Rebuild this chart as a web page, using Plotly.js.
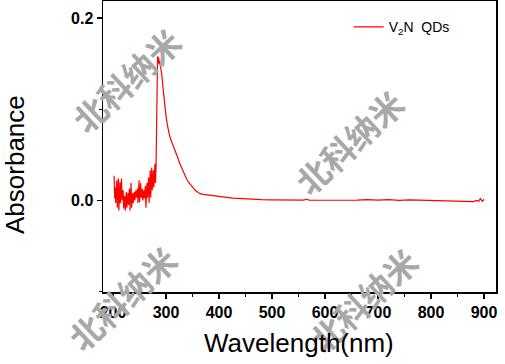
<!DOCTYPE html>
<html>
<head>
<meta charset="utf-8">
<script src="https://cdn.plot.ly/plotly-3.0.1.min.js"></script>
<style>html,body{margin:0;padding:0;background:#fff;}#chart{width:505px;height:364px;}</style>
</head>
<body>
<div id="chart"></div>
<script>
// Wavelength (nm)
const wavelength = [
  202,203,204,205,207,208,210,211,213,214,216,217,219,220,222,223,225,226,228,229,
  231,232,234,235,237,238,240,241,243,244,246,247,249,250,252,253,255,256,258,259,
  261,262,264,265,267,268,270,271,273,274,276,277,279,280,
  281,282,283,284,285,286,287,288,290,292,294,296,298,300,303,307,312,317,322,326,
  331,336,340,345,350,355,360,364,370,380,390,402,415,426,445,464,480,500,520,560,
  565,570,600,640,660,680,700,720,740,760,800,840,860,870,880,885,890,893,897,900
];
// Absorbance
const absorbance = [
  0.027,0.002,0.014,-0.003,0.022,-0.008,0.024,-0.011,0.020,-0.003,0.024,0.000,0.011,-0.009,0.005,-0.011,0.009,-0.008,0.008,-0.005,
  0.013,-0.011,0.019,-0.008,0.008,-0.003,0.009,0.000,0.011,0.003,0.013,-0.003,0.022,-0.002,0.019,0.003,0.013,0.000,0.011,0.002,
  0.016,-0.008,0.019,0.003,0.025,-0.003,0.033,0.003,0.036,0.011,0.033,0.014,0.040,0.019,
  0.035,0.110,0.145,0.158,0.150,0.157,0.149,0.153,0.145,0.138,0.125,0.112,0.102,0.092,0.081,0.070,0.062,0.055,0.047,0.040,
  0.033,0.027,0.022,0.018,0.014,0.011,0.009,0.0073,0.0065,0.0057,0.0050,0.0038,0.0030,0.0025,0.0018,0.0010,0.0008,0.0005,0.0004,0.0003,
  0.0012,0.0002,0.0001,0.0000,0.0003,0.0008,0.0003,0.0008,0.0000,0.0006,0.0000,-0.0003,-0.0012,-0.0008,-0.0015,0.0000,-0.0010,0.0020,-0.0010,0.0010
];
const seriesName = "V<sub>2</sub>N  QDs";
const xTitle = "Wavelength(nm)";
const yTitle = "Absorbance";
const watermarkText = "北科纳米";

const trace = {
  x: wavelength, y: absorbance, type: "scatter", mode: "lines",
  name: seriesName, line: {color: "#ff0000", width: 1.2}
};

const W = 505, H = 364, L = 103, R = 9, T = 1, B = 72;
const pw = W - L - R, ph = H - T - B;
const px = v => (v - L) / pw;
const py = v => (H - B - v) / ph;

const wmPos = [[126, 80], [349, 142], [122, 298], [363, 300]];
const annotations = wmPos.map(p => ({
  xref: "paper", yref: "paper", x: px(p[0]), y: py(p[1]),
  text: watermarkText, showarrow: false, textangle: -43,
  font: {family: "Noto Sans CJK SC", size: 33, color: "#a8a8a8", weight: 700},
  xanchor: "center", yanchor: "middle"
}));
annotations.push({
  xref: "paper", yref: "paper", x: px(299), y: py(343),
  text: xTitle, showarrow: false, xanchor: "center", yanchor: "middle",
  font: {family: "Liberation Sans, Arial", size: 26, color: "#000"}
});
annotations.push({
  xref: "paper", yref: "paper", x: px(15), y: py(165),
  text: yTitle, showarrow: false, textangle: -90, xanchor: "center", yanchor: "middle",
  font: {family: "Liberation Sans, Arial", size: 26, color: "#000"}
});

const layout = {
  width: W, height: H,
  margin: {l: L, r: R, t: T, b: B},
  paper_bgcolor: "#fff", plot_bgcolor: "#fff",
  showlegend: true,
  legend: {x: 0.625, y: 0.965, xanchor: "left", yanchor: "top", bgcolor: "rgba(0,0,0,0)",
           font: {family: "Liberation Sans, Arial", size: 14, color: "#000"}},
  xaxis: {
    range: [181, 922.6], showgrid: false, zeroline: false,
    showline: true, mirror: true, linecolor: "#000", linewidth: 1.5,
    ticks: "outside", ticklen: 5, tickwidth: 1.2, tickcolor: "#000",
    tick0: 200, dtick: 100,
    minor: {ticks: "outside", ticklen: 3, dtick: 50, tick0: 200, tickcolor: "#000"},
    tickfont: {family: "Liberation Sans, Arial", size: 16, color: "#000", weight: 700}
  },
  yaxis: {
    range: [-0.1005, 0.2186], showgrid: false, zeroline: false,
    showline: true, mirror: true, linecolor: "#000", linewidth: 1.5,
    ticks: "outside", ticklen: 5, tickwidth: 1.2, tickcolor: "#000",
    tick0: 0, dtick: 0.2, tickformat: ".1f",
    minor: {ticks: "outside", ticklen: 3, dtick: 0.1, tick0: 0, tickcolor: "#000"},
    tickfont: {family: "Liberation Sans, Arial", size: 16, color: "#000", weight: 700}
  },
  annotations: annotations
};

Plotly.newPlot("chart", [trace], layout, {staticPlot: true, displayModeBar: false});
</script>
</body>
</html>
